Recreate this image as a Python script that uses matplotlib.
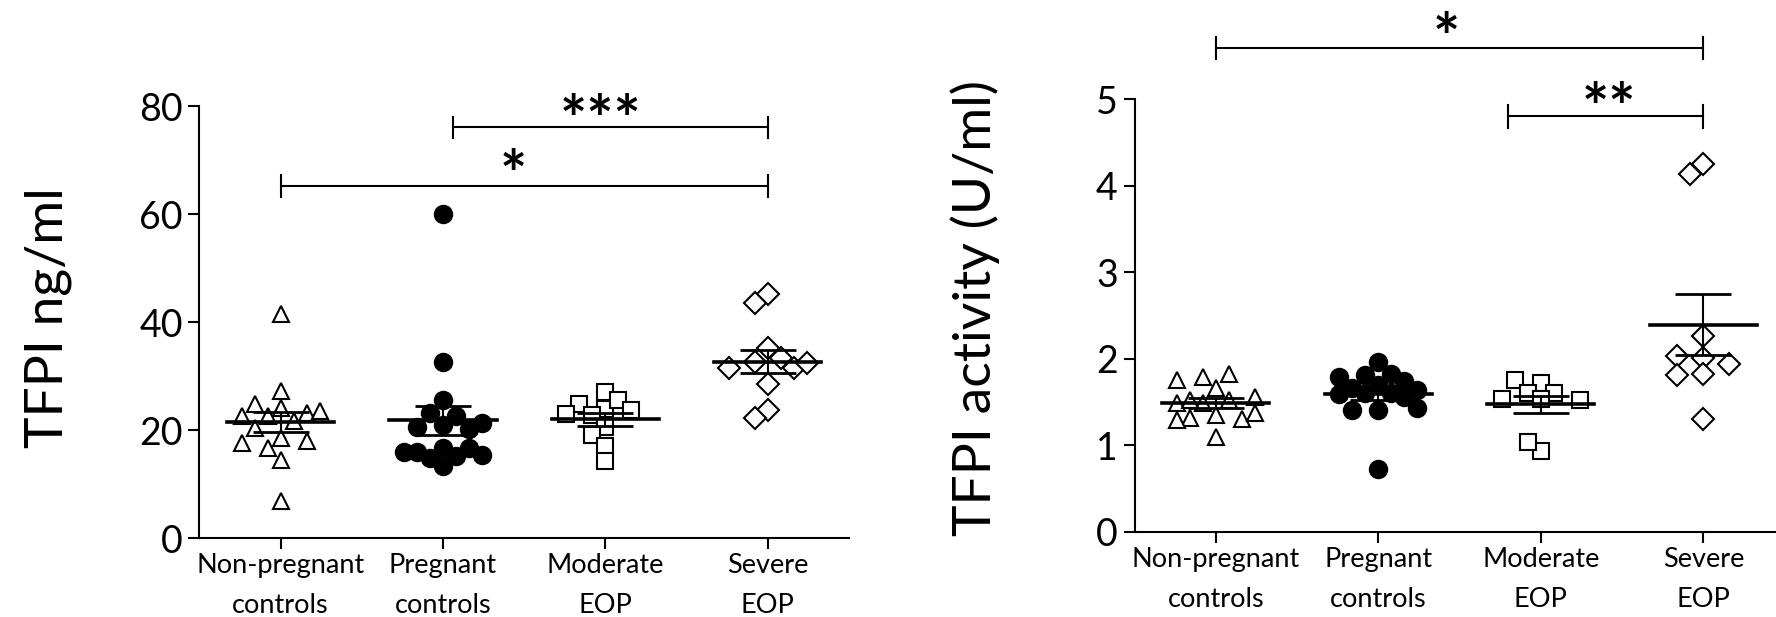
import numpy as np
import matplotlib
matplotlib.use("Agg")
import matplotlib.pyplot as plt

plt.rcParams['font.family'] = ['Lato', 'DejaVu Sans']

groups = ['Non-pregnant\ncontrols', 'Pregnant\ncontrols', 'Moderate\nEOP', 'Severe\nEOP']

# TFPI antigen (ng/ml)
tfpi_nonpreg = [41.4, 27.3, 24.0, 22.6, 23.1, 24.8, 22.6, 23.6, 21.6, 20.3, 18.5, 17.9, 17.6, 16.6, 14.5, 6.8]
tfpi_preg = [60.0, 32.6, 25.6, 23.1, 22.6, 20.9, 20.6, 21.3, 20.1, 16.6, 16.0, 16.6, 15.1, 15.4, 14.8, 16.0, 13.4]
tfpi_moderate = [27.0, 23.8, 24.9, 25.6, 23.7, 22.9, 22.8, 20.6, 19.1, 17.1, 14.2]
tfpi_severe = [45.1, 43.6, 35.1, 32.6, 33.3, 31.4, 31.4, 32.5, 28.5, 23.7, 22.2]

# TFPI activity (U/ml)
act_nonpreg = [1.66, 1.79, 1.82, 1.75, 1.49, 1.52, 1.49, 1.56, 1.52, 1.35, 1.32, 1.30, 1.29, 1.37, 1.10]
act_preg = [1.96, 1.81, 1.70, 1.60, 1.83, 1.79, 1.74, 1.64, 1.66, 1.60, 1.59, 1.56, 1.41, 1.41, 1.43, 0.73]
act_moderate = [1.72, 1.76, 1.60, 1.60, 1.53, 1.52, 1.54, 0.94, 1.04]
act_severe = [4.25, 4.13, 2.26, 2.01, 2.03, 1.94, 1.83, 1.81, 1.30]

# significance brackets: (from group, to group, label)
left_sig = [(1.06, 3, '***'), (0, 3, '*')]
right_sig = [(0, 3, '*'), (1.8, 3, '**')]

markers = [('^', 'white'), ('o', 'black'), ('s', 'white'), ('D', 'white')]
msizes = [12, 12.5, 12, 11]


def swarm_offsets(ax, xc, vals, step=0.08, dist=15.0, kmax=3):
    # column scatter: centre first, then step out left/right, at most kmax columns each side
    placed, offs = [], []
    for v in vals:
        best, best_d = None, -1.0
        for k in range(kmax + 1):
            cands = [0.0] if k == 0 else [-k * step, k * step]
            for o in cands:
                p = ax.transData.transform((xc + o, v))
                d = min([np.hypot(p[0] - q[0], p[1] - q[1]) for q in placed], default=1e9)
                if d > best_d:
                    best, best_d = (o, p), d
                if d >= dist:
                    break
            if best_d >= dist:
                break
        offs.append(best[0])
        placed.append(best[1])
    return np.array(offs)


def style_axis(ax, ymax, yticks):
    ax.set_xlim(-0.5, 3.5)
    ax.set_ylim(0, ymax)
    for s in ['top', 'right']:
        ax.spines[s].set_visible(False)
    for s in ['left', 'bottom']:
        ax.spines[s].set_linewidth(1.5)
    ax.set_yticks(yticks)
    ax.set_xticks(range(4))
    ax.set_xticklabels(groups, fontsize=19.5, linespacing=1.75)
    ax.tick_params(axis='y', labelsize=27, length=8, width=1.5, pad=4)
    ax.tick_params(axis='x', length=8, width=1.5, pad=3)


def draw_groups(ax, data):
    for i, vals in enumerate(data):
        vals = np.array(vals)
        offs = swarm_offsets(ax, i, vals)
        m, fc = markers[i]
        ax.plot(i + offs, vals, linestyle='none', marker=m, ms=msizes[i],
                mfc=fc, mec='black', mew=1.5, zorder=3)
        mean = vals.mean()
        sem = vals.std(ddof=1) / np.sqrt(len(vals))
        ax.plot([i - 0.33, i + 0.33], [mean, mean], color='black', lw=2.6, zorder=5)
        ax.errorbar(i, mean, yerr=sem, color='black', capsize=20, elinewidth=1.5,
                    capthick=2, zorder=5)


def bracket(ax, x0, x1, y, tick, label, tx, ty, fs):
    ax.plot([x0, x1], [y, y], color='black', lw=1.5, clip_on=False)
    ax.plot([x0, x0], [y - tick, y + tick], color='black', lw=1.5, clip_on=False)
    ax.plot([x1, x1], [y - tick, y + tick], color='black', lw=1.5, clip_on=False)
    ax.text(tx, ty, label, ha='center', va='center', fontsize=fs,
            fontweight='bold', clip_on=False)


fig = plt.figure(figsize=(17.76, 6.17), dpi=100)

ax1 = fig.add_axes([0.1123, 0.128, 0.3657, 0.7002])
style_axis(ax1, 80, [0, 20, 40, 60, 80])
draw_groups(ax1, [tfpi_nonpreg, tfpi_preg, tfpi_moderate, tfpi_severe])
bracket(ax1, left_sig[0][0], left_sig[0][1], 76.05, 2.0, left_sig[0][2], 1.97, 76.8, 46)
bracket(ax1, left_sig[1][0], left_sig[1][1], 65.2, 2.0, left_sig[1][2], 1.43, 66.5, 46)
fig.text(0.027, 0.486, 'TFPI ng/ml', rotation=90, ha='center', va='center', fontsize=38.5)

ax2 = fig.add_axes([0.6388, 0.1378, 0.366, 0.7017])
style_axis(ax2, 5, [0, 1, 2, 3, 4, 5])
draw_groups(ax2, [act_nonpreg, act_preg, act_moderate, act_severe])
bracket(ax2, right_sig[0][0], right_sig[0][1], 5.59, 0.13, right_sig[0][2], 1.42, 5.66, 46)
bracket(ax2, right_sig[1][0], right_sig[1][1], 4.80, 0.13, right_sig[1][2], 2.42, 4.86, 46)
fig.text(0.549, 0.50, 'TFPI activity (U/ml)', rotation=90, ha='center', va='center', fontsize=38.5)

fig.savefig('out.png', dpi=100)
